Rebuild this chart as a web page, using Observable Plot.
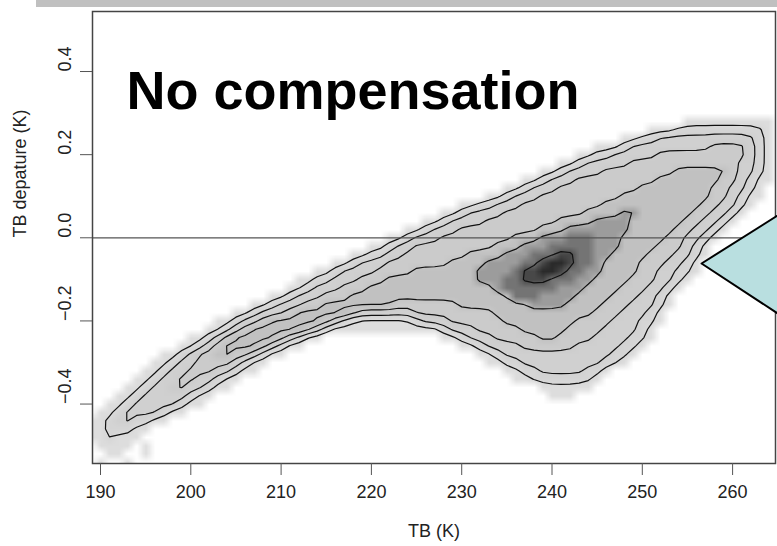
<!DOCTYPE html>
<html><head><meta charset="utf-8">
<script src="https://cdn.jsdelivr.net/npm/d3@7"></script>
<script src="https://cdn.jsdelivr.net/npm/@observablehq/plot@0.6"></script>
<style>
body{margin:0;background:#fff;}
#wrap{position:relative;width:777px;height:546px;overflow:hidden;font-family:"Liberation Sans",Arial,sans-serif;}
#bar{position:absolute;left:36px;top:0;width:741px;height:7px;background:#c0c0c0;}
#wrap svg{position:absolute;left:0;top:0;}
</style></head><body><div id="wrap"><div id="bar"></div></div>
<script>
const title = "No compensation";
const xLabel = "TB (K)";
const yLabel = "TB depature (K)";
const xTicks = [190, 200, 210, 220, 230, 240, 250, 260];
const yTicks = [-0.4, -0.2, 0, 0.2, 0.4];
// 2-D histogram: 1 K bins in TB (188.5..265.5), 0.02 K bins in departure (0.31 top .. -0.55 bottom)
const binTB = [188.5, 265.5];
const binDep = [0.31, -0.55];
const nCols = 77, nRows = 43;
// density class per bin, as runs [firstCol, lastCol, class] per row (top row first)
const densityRuns = [
  [],
  [[66,75,1]],
  [[62,64,1],[65,74,2],[75,75,1]],
  [[59,60,1],[61,62,2],[63,73,3],[74,74,2],[75,75,1]],
  [[56,58,1],[59,59,2],[60,68,3],[69,72,4],[73,73,3],[74,74,2],[75,75,1]],
  [[54,55,1],[56,57,2],[58,62,3],[63,72,4],[73,73,3],[74,74,2],[75,75,1]],
  [[52,53,1],[54,54,2],[55,59,3],[60,71,4],[72,73,3],[74,74,2],[75,75,1]],
  [[50,51,1],[52,52,2],[53,56,3],[57,64,4],[65,70,5],[71,71,4],[72,73,3],[74,74,2],[75,75,1]],
  [[48,49,1],[50,50,2],[51,53,3],[54,62,4],[63,69,5],[70,71,4],[72,72,3],[73,73,2],[74,75,1]],
  [[46,47,1],[48,48,2],[49,51,3],[52,60,4],[61,68,5],[69,70,4],[71,72,3],[73,73,2],[74,74,1]],
  [[44,45,1],[46,46,2],[47,49,3],[50,58,4],[59,68,5],[69,70,4],[71,71,3],[72,72,2],[73,74,1]],
  [[41,42,1],[43,44,2],[45,47,3],[48,56,4],[57,67,5],[68,69,4],[70,71,3],[72,72,2],[73,73,1]],
  [[39,40,1],[41,41,2],[42,45,3],[46,54,4],[55,58,5],[59,60,6],[61,66,5],[67,68,4],[69,70,3],[71,71,2],[72,72,1]],
  [[37,38,1],[39,39,2],[40,43,3],[44,51,4],[52,55,5],[56,59,6],[60,65,5],[66,67,4],[68,69,3],[70,70,2],[71,71,1]],
  [[35,36,1],[37,37,2],[38,40,3],[41,49,4],[50,52,5],[53,59,6],[60,64,5],[65,66,4],[67,68,3],[69,69,2],[70,70,1]],
  [[33,34,1],[35,35,2],[36,38,3],[39,46,4],[47,49,5],[50,52,6],[53,55,7],[56,58,6],[59,63,5],[64,65,4],[66,67,3],[68,68,2],[69,69,1]],
  [[31,32,1],[33,33,2],[34,35,3],[36,44,4],[45,47,5],[48,50,6],[51,55,7],[56,58,6],[59,62,5],[63,65,4],[66,66,3],[67,67,2],[68,68,1]],
  [[29,30,1],[31,32,2],[33,34,3],[35,41,4],[42,45,5],[46,48,6],[49,51,7],[52,53,8],[54,55,7],[56,57,6],[58,61,5],[62,64,4],[65,66,3],[67,67,2],[68,68,1]],
  [[27,28,1],[29,29,2],[30,32,3],[33,39,4],[40,43,5],[44,47,6],[48,49,7],[50,50,8],[51,52,9],[53,53,8],[54,55,7],[56,56,6],[57,60,5],[61,63,4],[64,65,3],[66,66,2],[67,67,1]],
  [[25,26,1],[27,27,2],[28,31,3],[32,35,4],[36,42,5],[43,46,6],[47,47,7],[48,49,8],[50,51,9],[52,52,8],[53,54,7],[55,56,6],[57,60,5],[61,62,4],[63,64,3],[65,66,2],[67,67,1]],
  [[23,24,1],[25,26,2],[27,29,3],[30,32,4],[33,42,5],[43,45,6],[46,47,7],[48,50,8],[51,53,7],[54,55,6],[56,59,5],[60,62,4],[63,64,3],[65,65,2],[66,66,1]],
  [[22,23,1],[24,24,2],[25,27,3],[28,30,4],[31,44,5],[45,45,6],[46,51,7],[52,54,6],[55,58,5],[59,61,4],[62,63,3],[64,64,2],[65,65,1]],
  [[20,21,1],[22,22,2],[23,25,3],[26,28,4],[29,46,5],[47,49,7],[50,53,6],[54,57,5],[58,60,4],[61,62,3],[63,63,2],[64,64,1]],
  [[18,19,1],[20,20,2],[21,23,3],[24,25,4],[26,33,5],[34,40,4],[41,48,5],[49,52,6],[53,56,5],[57,59,4],[60,62,3],[63,63,2],[64,64,1]],
  [[16,17,1],[18,18,2],[19,21,3],[22,22,4],[23,28,5],[29,29,4],[30,35,3],[36,44,4],[45,55,5],[56,58,4],[59,61,3],[62,62,2],[63,63,1]],
  [[14,15,1],[16,16,2],[17,18,3],[19,19,4],[20,25,5],[26,26,4],[27,27,3],[28,28,2],[29,35,1],[36,36,2],[37,39,3],[40,45,4],[46,53,5],[54,57,4],[58,60,3],[61,62,2],[63,63,1]],
  [[13,14,1],[15,15,2],[16,16,3],[17,17,4],[18,23,5],[24,24,4],[25,25,3],[26,26,2],[27,38,1],[39,39,2],[40,42,3],[43,47,4],[48,52,5],[53,56,4],[57,60,3],[61,61,2],[62,62,1]],
  [[11,12,1],[13,13,2],[14,14,3],[15,15,4],[16,20,5],[21,21,4],[22,22,3],[23,23,2],[24,25,1],[39,40,1],[41,41,2],[42,44,3],[45,49,4],[50,51,5],[52,55,4],[56,59,3],[60,61,2],[62,62,1]],
  [[10,11,1],[12,12,2],[13,13,3],[14,14,4],[15,18,5],[19,19,4],[20,20,3],[21,21,2],[22,23,1],[41,42,1],[43,43,2],[44,47,3],[48,53,4],[54,58,3],[59,60,2],[61,61,1]],
  [[8,9,1],[10,10,2],[11,11,3],[12,13,4],[14,15,5],[16,17,4],[18,18,3],[19,19,2],[20,21,1],[43,44,1],[45,45,2],[46,57,3],[58,59,2],[60,60,1]],
  [[7,8,1],[9,9,2],[10,11,3],[12,15,4],[16,16,3],[17,17,2],[18,19,1],[44,45,1],[46,47,2],[48,56,3],[57,58,2],[59,59,1]],
  [[6,7,1],[8,8,2],[9,10,3],[11,13,4],[14,15,3],[16,16,2],[17,18,1],[46,47,1],[48,49,2],[50,54,3],[55,56,2],[57,57,1]],
  [[5,6,1],[7,7,2],[8,9,3],[10,11,4],[12,13,3],[14,14,2],[15,16,1],[47,48,1],[49,55,2],[56,56,1]],
  [[4,5,1],[6,6,2],[7,8,3],[9,10,4],[11,12,3],[13,13,2],[14,15,1],[50,55,1]],
  [[3,4,1],[5,5,2],[6,10,3],[11,11,2],[12,13,1],[51,53,1]],
  [[2,3,1],[4,4,2],[5,9,3],[10,10,2],[11,12,1]],
  [[1,2,1],[3,3,2],[4,7,3],[8,8,2],[9,10,1]],
  [[0,1,1],[2,2,2],[3,4,3],[5,6,2],[7,8,1]],
  [[0,1,1],[2,4,2],[5,6,1]],
  [[0,1,1],[2,2,2],[3,5,1]],
  [[1,4,1],[6,6,1]],
  [[2,3,1],[6,6,1]],
  [[1,1,1],[4,4,1]]
];
const contourLevels = [1.5, 2.5, 3.5, 4.5, 5.5, 7.5];
const levelColors = ["#ffffff","#dddddd","#d5d5d5","#d0d0d0","#cbcbcb","#c1c1c1","#9c9c9c","#747474","#484848","#2a2a2a"];
// callout pointer (in data coordinates)
const calloutTB = [266, 256.56, 266];
const calloutDep = [0.0674, -0.0618, -0.1963];

const grid = new Array(nCols * nRows).fill(0);
densityRuns.forEach((runs, r) => runs.forEach(([a, b, v]) => {
  for (let c = a; c <= b; c++) grid[r * nCols + c] = v;
}));
const callout = calloutTB.map((t, i) => ({tb: t, dep: calloutDep[i]}));
const fmtY = d => d === 0 ? "0.0" : (d < 0 ? "\u2212" : "") + Math.abs(d).toFixed(1);
const font = "Liberation Sans, Arial, sans-serif";

const chart = Plot.plot({
  width: 777, height: 546,
  marginLeft: 92, marginRight: 2, marginTop: 11, marginBottom: 83,
  x: {domain: [189.114, 264.75]},
  y: {domain: [-0.543, 0.5444]},
  style: {fontFamily: font, background: "transparent", color: "#222"},
  marks: [
    Plot.raster(grid, {width: nCols, height: nRows, x1: binTB[0], x2: binTB[1], y1: binDep[0], y2: binDep[1],
      fill: v => levelColors[v], clip: true}),
    Plot.contour(grid, {width: nCols, height: nRows, x1: binTB[0], x2: binTB[1], y1: binDep[0], y2: binDep[1],
      value: v => v, thresholds: contourLevels, blur: 0.12, stroke: "#111", strokeWidth: 1.2, fill: "none", clip: true}),
    Plot.ruleY([0], {stroke: "#555", strokeWidth: 1.3}),
    Plot.frame({stroke: "#444", strokeWidth: 1.5}),
    Plot.axisX(xTicks, {tickSize: 12, tickPadding: 10, fontSize: 18, stroke: "#555", label: null}),
    Plot.axisY(yTicks, {tickSize: 12, tickFormat: () => "", stroke: "#555", label: null}),
    Plot.text(yTicks, {y: d => d, text: fmtY, frameAnchor: "left", rotate: -90, dx: -27, fontSize: 18, fill: "#222"}),
    Plot.text([xLabel], {text: d => d, frameAnchor: "bottom", dy: 73, fontSize: 18, fill: "#222"}),
    Plot.text([yLabel], {text: d => d, frameAnchor: "left", rotate: -90, dx: -72, fontSize: 18, fill: "#222"}),
    Plot.text([title], {text: d => d, frameAnchor: "top-left", textAnchor: "start", dx: 34, dy: 59,
      fontSize: 54, fontWeight: "bold", fill: "black"}),
    Plot.line(callout, {x: "tb", y: "dep", fill: "#b9dfe0", stroke: "black", strokeWidth: 2})
  ]
});
document.getElementById("wrap").appendChild(chart);
</script>
</body></html>
